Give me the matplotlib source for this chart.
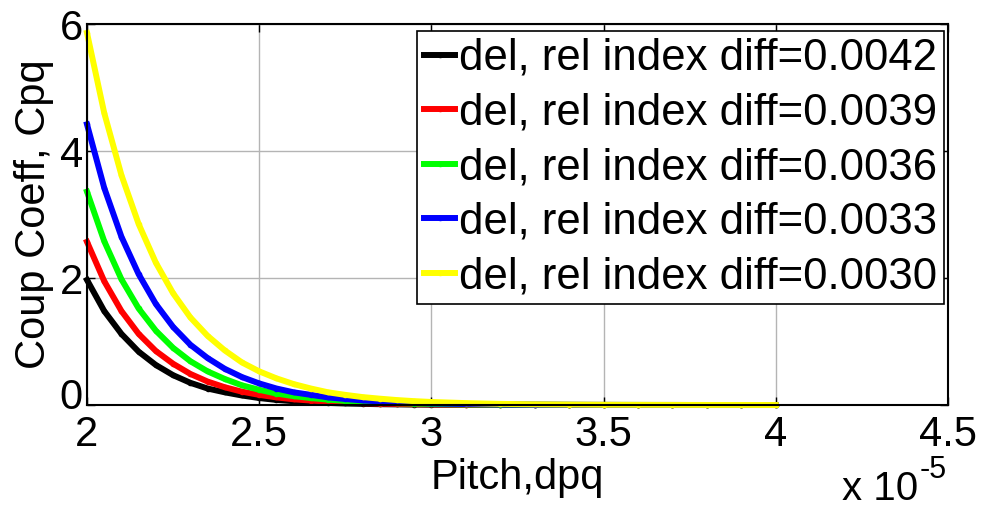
import matplotlib
matplotlib.use("Agg")
import matplotlib.pyplot as plt
from matplotlib.transforms import offset_copy

plt.rcParams['font.family'] = ['Liberation Sans', 'DejaVu Sans']

# pitch in units of 1e-5
pitch = [2.00, 2.05, 2.10, 2.15, 2.20, 2.25, 2.30, 2.35, 2.40, 2.45, 2.50,
         2.55, 2.60, 2.65, 2.70, 2.75, 2.80, 2.85, 2.90, 2.95, 3.00,
         3.10, 3.20, 3.30, 3.40, 3.50, 3.60, 3.70, 3.80, 3.90, 4.00]

cpq_0042 = [1.97, 1.48, 1.12, 0.84, 0.63, 0.47, 0.35, 0.26, 0.20, 0.15, 0.11,
            0.08, 0.06, 0.045, 0.033, 0.024, 0.018, 0.013, 0.010, 0.007, 0.005,
            0.003, 0.002, 0.001, 0.001, 0.0, 0.0, 0.0, 0.0, 0.0, 0.0]
cpq_0039 = [2.57, 1.95, 1.48, 1.12, 0.85, 0.65, 0.49, 0.37, 0.28, 0.21, 0.16,
            0.12, 0.09, 0.07, 0.053, 0.04, 0.03, 0.023, 0.017, 0.013, 0.01,
            0.006, 0.003, 0.002, 0.001, 0.001, 0.0, 0.0, 0.0, 0.0, 0.0]
cpq_0036 = [3.36, 2.58, 1.98, 1.52, 1.17, 0.90, 0.69, 0.53, 0.41, 0.31, 0.24,
            0.18, 0.14, 0.11, 0.085, 0.065, 0.05, 0.038, 0.03, 0.023, 0.017,
            0.01, 0.006, 0.004, 0.002, 0.001, 0.001, 0.0, 0.0, 0.0, 0.0]
cpq_0033 = [4.42, 3.42, 2.65, 2.06, 1.59, 1.23, 0.95, 0.74, 0.57, 0.44, 0.34,
            0.26, 0.20, 0.16, 0.12, 0.095, 0.073, 0.057, 0.044, 0.034, 0.026,
            0.016, 0.009, 0.006, 0.003, 0.002, 0.001, 0.001, 0.0, 0.0, 0.0]
cpq_0030 = [5.86, 4.60, 3.62, 2.85, 2.24, 1.76, 1.38, 1.09, 0.86, 0.67, 0.53,
            0.42, 0.33, 0.26, 0.20, 0.16, 0.125, 0.10, 0.078, 0.061, 0.048,
            0.03, 0.018, 0.011, 0.007, 0.004, 0.003, 0.002, 0.001, 0.001, 0.0]

series = [cpq_0042, cpq_0039, cpq_0036, cpq_0033, cpq_0030]
labels = ['del, rel index diff=0.0042', 'del, rel index diff=0.0039',
          'del, rel index diff=0.0036', 'del, rel index diff=0.0033',
          'del, rel index diff=0.0030']
colors = ['black', 'red', '#00ff00', 'blue', 'yellow']

xticks = [2, 2.5, 3, 3.5, 4, 4.5]
xticklabels = ['2', '2.5', '3', '3.5', '4', '4.5']
yticks = [0, 2, 4, 6]

fig = plt.figure(figsize=(9.83, 5.11), dpi=100)
ax = fig.add_axes([0.0885, 0.2074, 0.8759, 0.7456])

for vals, lab, col in zip(series, labels, colors):
    ax.plot(pitch, vals, '.-', color=col, lw=4.3, ms=6, label=lab,
            clip_on=False)

ax.set_xlim(2, 4.5)
ax.set_ylim(0, 6)
ax.set_xticks(xticks)
ax.set_xticklabels(xticklabels)
ax.set_yticks(yticks)
ax.grid(True, color='#b4b4b4', lw=1)
ax.set_axisbelow(True)
ax.tick_params(direction='in', top=True, right=True, length=5.5, width=1,
               labelsize=30)
ax.tick_params(axis='x', pad=7)
ax.tick_params(axis='y', pad=3)
for sp in ax.spines.values():
    sp.set_linewidth(1.5)

# lift the "0" label so it clears the "2" under the corner
zero_lab = ax.get_yticklabels()[0]
zero_lab.set_transform(offset_copy(zero_lab.get_transform(), fig=fig,
                                   y=8, units='points'))

ax.set_xlabel('Pitch,dpq', fontsize=30, labelpad=2)
ax.set_ylabel('Coup Coeff, Cpq', fontsize=30, labelpad=4)

leg = ax.legend(loc='upper right', bbox_to_anchor=(1 - 4.5 / 861, 1 - 7.4 / 381),
                borderaxespad=0, fontsize=31.5, handlelength=0.72,
                handletextpad=0.08, labelspacing=0.31, borderpad=0.15,
                fancybox=False, framealpha=1, edgecolor='black')
leg.get_frame().set_linewidth(1.2)

# exponent of the pitch axis
fig.text(842 / 983, 11 / 511, 'x 10', fontsize=29, va='baseline')
fig.text(920 / 983, 33 / 511, '-5', fontsize=22, va='baseline')

fig.savefig('out.png', dpi=100)
